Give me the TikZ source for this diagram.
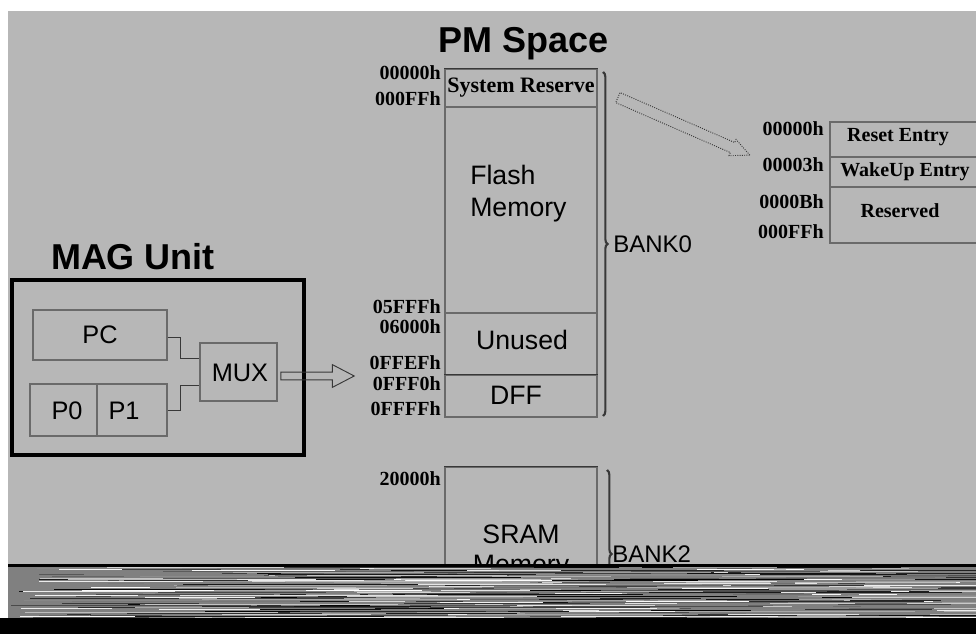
\documentclass[tikz,border=0pt]{standalone}
\usepackage{fontspec}
\setmainfont{Liberation Serif}
\setsansfont{Liberation Sans}
\usetikzlibrary{shapes.arrows,decorations.pathreplacing,calc,fit}
\definecolor{bg}{HTML}{B7B7B7}
\definecolor{ln}{HTML}{6A6A6A}
\definecolor{dk}{HTML}{383838}
\begin{document}
\begin{tikzpicture}[x=0.75pt,y=-0.75pt,
  seg/.style={draw=ln, line width=0.8pt, inner sep=0pt},
  magbox/.style={draw=black, line width=2.4pt, inner sep=0pt},
  regbox/.style={draw=ln, line width=0.8pt, inner sep=0pt},
  wire/.style={draw=dk, line width=0.7pt},
  title/.style={font=\sffamily\bfseries\fontsize{27}{30}\selectfont, inner sep=0pt},
  bank/.style={font=\sffamily\fontsize{18}{20}\selectfont, inner sep=0pt},
  big/.style={font=\sffamily\fontsize{20}{24}\selectfont, inner sep=0pt},
  reg/.style={font=\sffamily\fontsize{19}{22}\selectfont, inner sep=0pt},
  addr/.style={font=\bfseries\fontsize{15}{16}\selectfont, inner sep=0pt, anchor=east},
  small/.style={font=\bfseries\fontsize{15}{16}\selectfont, inner sep=0pt},
  bracebar/.style={draw=dk, line width=1.6pt, decorate, decoration={brace, amplitude=3.5pt, aspect=0.5}},
  hollow/.style={single arrow, draw=dk, line width=0.7pt, fill=none, inner xsep=0pt}
]
\clip (0,0) rectangle (976,634);
\useasboundingbox (0,0) rectangle (976,634);
\fill[white] (0,0) rectangle (976,634);
\fill[bg] (8,11) rectangle (976,566);

% ---------- PM Space ----------
\node[title, anchor=base] (pmtitle) at (524,53) {PM Space};

\node[seg, fit={(445,69)(597,107)}] (sysres) {};
\node[seg, fit={(445,107)(597,313)}] (flash) {};
\node[seg, fit={(445,313)(597,375)}] (unused) {};
\node[seg, fit={(445,375)(597,417)}] (dff) {};
\draw[draw=dk, line width=1pt] (sysres.north west) -- (sysres.north east);
\draw[draw=dk, line width=1pt] (dff.north west) -- (dff.north east);

\node[small, font=\bfseries\fontsize{16.5}{17}\selectfont] (sysrestxt) at (521,88) {System Reserve};
\node[big, anchor=north west, align=left, font=\sffamily\fontsize{20}{24}\selectfont] (flashtxt) at (470,165) {Flash\\Memory};
\node[big] (unusedtxt) at (522,340) {Unused};
\node[big] (dfftxt) at (516,395) {DFF};

\node[addr] (a1) at (441,73) {00000h};
\node[addr] (a2) at (441,99) {000FFh};
\node[addr] (a3) at (441,307) {05FFFh};
\node[addr] (a4) at (441,327) {06000h};
\node[addr] (a5) at (441,363) {0FFEFh};
\node[addr] (a6) at (441,384) {0FFF0h};
\node[addr] (a7) at (441,409) {0FFFFh};

\coordinate (b0top) at (603,72);
\coordinate (b0bot) at (603,416);
\draw[bracebar] (b0top) -- (b0bot);
\node[bank, anchor=base west] (bank0) at (613,253) {BANK0};

% SRAM
\node[seg, fit={(445,467)(597,640)}] (sram) {};
\draw[draw=dk, line width=1pt] (sram.north west) -- (sram.north east);
\node[big, anchor=north, align=center, font=\sffamily\fontsize{20}{22}\selectfont] (sramtxt) at (521,525) {SRAM\\Memory};
\node[addr] (a8) at (441,479) {20000h};
\coordinate (b2top) at (607,470);
\coordinate (b2bot) at (607,638);
\draw[bracebar] (b2top) -- (b2bot);
\node[bank, anchor=base west] (bank2) at (612,563) {BANK2};

% ---------- vector table ----------
\node[seg, fit={(830,122)(1000,157)}] (reset) {};
\node[seg, fit={(830,157)(1000,187)}] (wake) {};
\node[seg, fit={(830,187)(1000,243)}] (resv) {};
\node[small] (resettxt) at (898,137) {Reset Entry};
\node[small] (waketxt) at (905,172) {WakeUp Entry};
\node[small] (resvtxt) at (900,211) {Reserved};
\node[addr] (v1) at (824,129) {00000h};
\node[addr] (v2) at (824,165) {00003h};
\node[addr] (v3) at (824,202) {0000Bh};
\node[addr] (v4) at (824,232) {000FFh};

\coordinate (pmtail) at (612,95);
\coordinate (pmtip) at (745,153);
\path (pmtail) -- (pmtip) node[midway, sloped, hollow, densely dotted, inner ysep=3.75pt,
   minimum height=108pt, single arrow head extend=2.5pt, single arrow tip angle=50] (pmarrow) {};

% ---------- MAG Unit ----------
\node[title, anchor=base] (magtitle) at (133,270) {MAG Unit};
\node[magbox, fit={(12,280)(304,455)}] (mag) {};
\node[regbox, fit={(33,310)(167,360)}] (pc) {};
\node[regbox, fit={(30,384)(97,436)}] (p0) {};
\node[regbox, fit={(97,384)(167,436)}] (p1) {};
\node[regbox, fit={(200,343)(277,401)}] (mux) {};
\node[reg] (pctxt) at (100,335) {PC};
\node[reg] (p0txt) at (67,411) {P0};
\node[reg] (p1txt) at (124,411) {P1};
\node[reg] (muxtxt) at (240,373) {MUX};

\draw[wire] ($(pc.east)+(0,2)$) -- ++(13,0) |- ($(mux.west)+(0,-14)$);
\draw[wire] ($(p1.east)+(0,0)$) -- ++(13,0) |- ($(mux.west)+(0,13)$);

\coordinate (muxtip) at (350,376);
\path ($(mux.east)+(0,4)$) -- (muxtip) node[midway, sloped, hollow, inner ysep=2.6pt,
   minimum height=55pt, single arrow head extend=5.6pt, single arrow tip angle=55] (muxarrow) {};

% ---------- corrupted bottom band ----------
\fill[black!50!white] (8,566) rectangle (976,618);
\fill[black] (0,618) rectangle (976,634);
\fill[black] (8,564) rectangle (976,567);
\pgfmathsetseed{11}
\foreach \i in {1,...,420}{
  \pgfmathtruncatemacro\xa{8+random(0,940)}
  \pgfmathtruncatemacro\w{random(10,260)}
  \pgfmathtruncatemacro\yy{567+random(0,50)}
  \pgfmathtruncatemacro\g{random(0,100)}
  \fill[black!\g!white] (\xa,\yy) rectangle ++(\w,1.2);
}
\end{tikzpicture}
\end{document}
